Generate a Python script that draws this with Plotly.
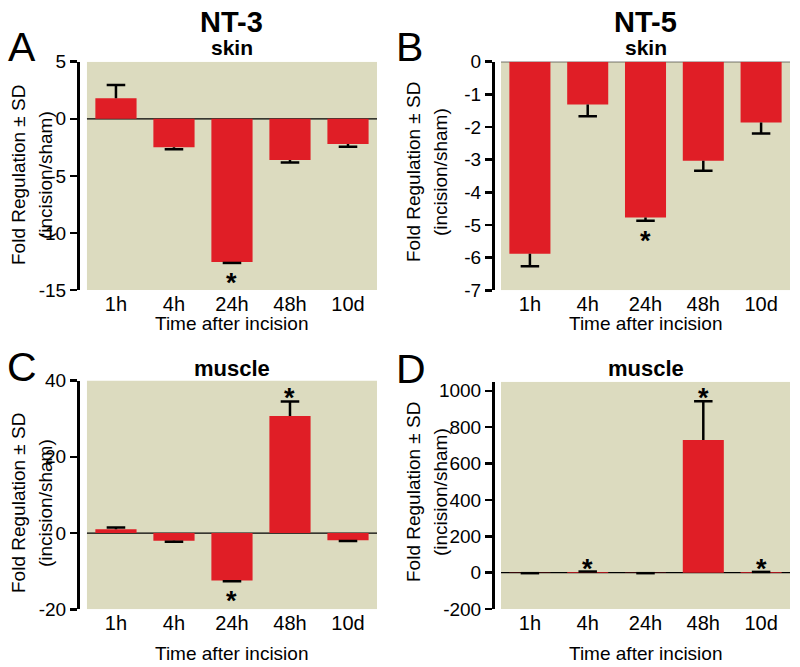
import plotly.graph_objects as go

# ---------------- data ----------------
categories = ["1h", "4h", "24h", "48h", "10d"]

nt3_skin = [1.8, -2.5, -12.55, -3.62, -2.22]
nt3_skin_sd = [1.15, 0.18, 0.08, 0.21, 0.23]
nt3_skin_sig = [2]

nt5_skin = [-5.88, -1.31, -4.77, -3.03, -1.86]
nt5_skin_sd = [0.38, 0.36, 0.10, 0.31, 0.34]
nt5_skin_sig = [2]

nt3_muscle = [0.96, -2.0, -12.47, 30.7, -1.92]
nt3_muscle_sd = [0.52, 0.27, 0.15, 3.8, 0.18]
nt3_muscle_sig = [2, 3]

nt5_muscle = [-2.0, 4.0, -2.0, 729.0, 3.0]
nt5_muscle_sd = [1.0, 2.0, 1.0, 214.0, 1.0]
nt5_muscle_sig = [1, 3, 4]

y_ticks_a = [5, 0, -5, -10, -15]
y_ticks_b = [0, -1, -2, -3, -4, -5, -6, -7]
y_ticks_c = [40, 20, 0, -20]
y_ticks_d = [1000, 800, 600, 400, 200, 0, -200]

# ---------------- style ----------------
W, H = 800, 667
FONT = "Liberation Sans, Arial, sans-serif"
BG = "#DCDBBF"
RED = "#E01E26"

def px_x(p):
    return p / W

def px_y(p):
    return 1 - p / H

panels = [
    dict(v=nt3_skin, sd=nt3_skin_sd, sig=nt3_skin_sig, ticks=y_ticks_a, yr=[-15, 5],
         xd=(80, 377), yd=(61.7, 290), xr=[-0.62, 4.5]),
    dict(v=nt5_skin, sd=nt5_skin_sd, sig=nt5_skin_sig, ticks=y_ticks_b, yr=[-7, 0],
         xd=(495, 790), yd=(61.7, 290.3), xr=[-0.604, 4.5]),
    dict(v=nt3_muscle, sd=nt3_muscle_sd, sig=nt3_muscle_sig, ticks=y_ticks_c, yr=[-20, 40],
         xd=(80, 377), yd=(380.5, 609.3), xr=[-0.62, 4.5]),
    dict(v=nt5_muscle, sd=nt5_muscle_sd, sig=nt5_muscle_sig, ticks=y_ticks_d, yr=[-200, 1050],
         xd=(495, 790), yd=(381.7, 609), xr=[-0.604, 4.5]),
]

fig = go.Figure()
shapes = []
annotations = []
xpos = list(range(len(categories)))
cap = 0.16

for k, p in enumerate(panels):
    n = "" if k == 0 else str(k + 1)
    xa, ya = "x" + n, "y" + n
    fig.add_trace(go.Bar(x=xpos, y=p["v"], width=0.71, marker=dict(color=RED, line=dict(width=0)),
                         xaxis=xa, yaxis=ya, showlegend=False, hoverinfo="skip"))
    ex, ey = [], []
    for i, (v, s) in enumerate(zip(p["v"], p["sd"])):
        sgn = 1 if v >= 0 else -1
        tip = v + sgn * s
        ex += [i, i, None, i - cap, i + cap, None]
        ey += [v, tip, None, tip, tip, None]
    fig.add_trace(go.Scatter(x=ex, y=ey, mode="lines", line=dict(color="black", width=2.5),
                             xaxis=xa, yaxis=ya, showlegend=False, hoverinfo="skip"))
    shapes.append(dict(type="rect", xref=xa, yref=ya, x0=-0.5, x1=4.5, y0=p["yr"][0], y1=p["yr"][1],
                       fillcolor=BG, line=dict(width=0), layer="below"))
    shapes.append(dict(type="line", xref=xa, yref=ya, x0=-0.5, x1=4.5, y0=0, y1=0,
                       line=dict(color="black", width=1.3), layer="below"))
    for i in p["sig"]:
        v, s = p["v"][i], p["sd"][i]
        sgn = 1 if v >= 0 else -1
        tip = v + sgn * s
        annotations.append(dict(xref=xa, yref=ya, x=i, y=tip, text="<b>*</b>", showarrow=False,
                                font=dict(family=FONT, size=27, color="black"),
                                yanchor="middle", yshift=(3 if sgn > 0 else -20)))
    axis_x = dict(domain=[px_x(p["xd"][0]), px_x(p["xd"][1])], range=p["xr"],
                  tickvals=xpos, ticktext=categories, ticks="", showline=False,
                  showgrid=False, zeroline=False, anchor=ya, automargin=False,
                  tickfont=dict(family=FONT, size=20, color="black"), fixedrange=True)
    axis_y = dict(domain=[px_y(p["yd"][1]), px_y(p["yd"][0])], range=p["yr"],
                  tickvals=p["ticks"], ticktext=[str(t) for t in p["ticks"]],
                  ticks="outside", ticklen=7, tickwidth=2.5, tickcolor="black",
                  showline=True, linewidth=3, linecolor="black",
                  showgrid=False, zeroline=False, anchor=xa, automargin=False,
                  tickfont=dict(family=FONT, size=19, color="black"), fixedrange=True)
    fig.update_layout(**{"xaxis" + n: axis_x, "yaxis" + n: axis_y})

def text_ann(x, y, text, size, bold=False, angle=0):
    t = "<b>%s</b>" % text if bold else text
    return dict(xref="paper", yref="paper", x=px_x(x), y=px_y(y), text=t, showarrow=False,
                xanchor="center", yanchor="middle", textangle=angle,
                font=dict(family=FONT, size=size, color="black"))

annotations += [
    text_ann(232, 22, "NT-3", 29, bold=True),
    text_ann(645.5, 22, "NT-5", 29, bold=True),
    text_ann(232, 47, "skin", 21, bold=True),
    text_ann(645.5, 47, "skin", 21, bold=True),
    text_ann(232, 368, "muscle", 22, bold=True),
    text_ann(645.5, 368, "muscle", 22, bold=True),
]
annotations += [
    text_ann(22, 47, "A", 41),
    text_ann(409, 47, "B", 41),
    text_ann(22, 367, "C", 41),
    text_ann(411, 369, "D", 41),
]
ytitle1 = "Fold Regulation ± SD"
ytitle2 = "(incision/sham)"
for (x1, x2, yc) in [(18, 45, 175), (413, 440, 172), (18, 45, 503), (413, 440, 492)]:
    annotations.append(text_ann(x1, yc, ytitle1, 19, angle=-90))
    annotations.append(text_ann(x2, yc, ytitle2, 19, angle=-90))
annotations += [
    text_ann(232, 323, "Time after incision", 19),
    text_ann(645.5, 323, "Time after incision", 19),
    text_ann(232, 653, "Time after incision", 19),
    text_ann(645.5, 653, "Time after incision", 19),
]

fig.update_layout(width=W, height=H, margin=dict(l=0, r=0, t=0, b=0, autoexpand=False),
                  paper_bgcolor="white", plot_bgcolor="white", barmode="overlay",
                  shapes=shapes, annotations=annotations, showlegend=False,
                  font=dict(family=FONT, color="black"))

fig.write_html("out.html", config={"displayModeBar": False, "staticPlot": True},
               post_script="document.body.style.margin='0';document.body.style.padding='0';"
                           "document.body.style.overflow='hidden';")
